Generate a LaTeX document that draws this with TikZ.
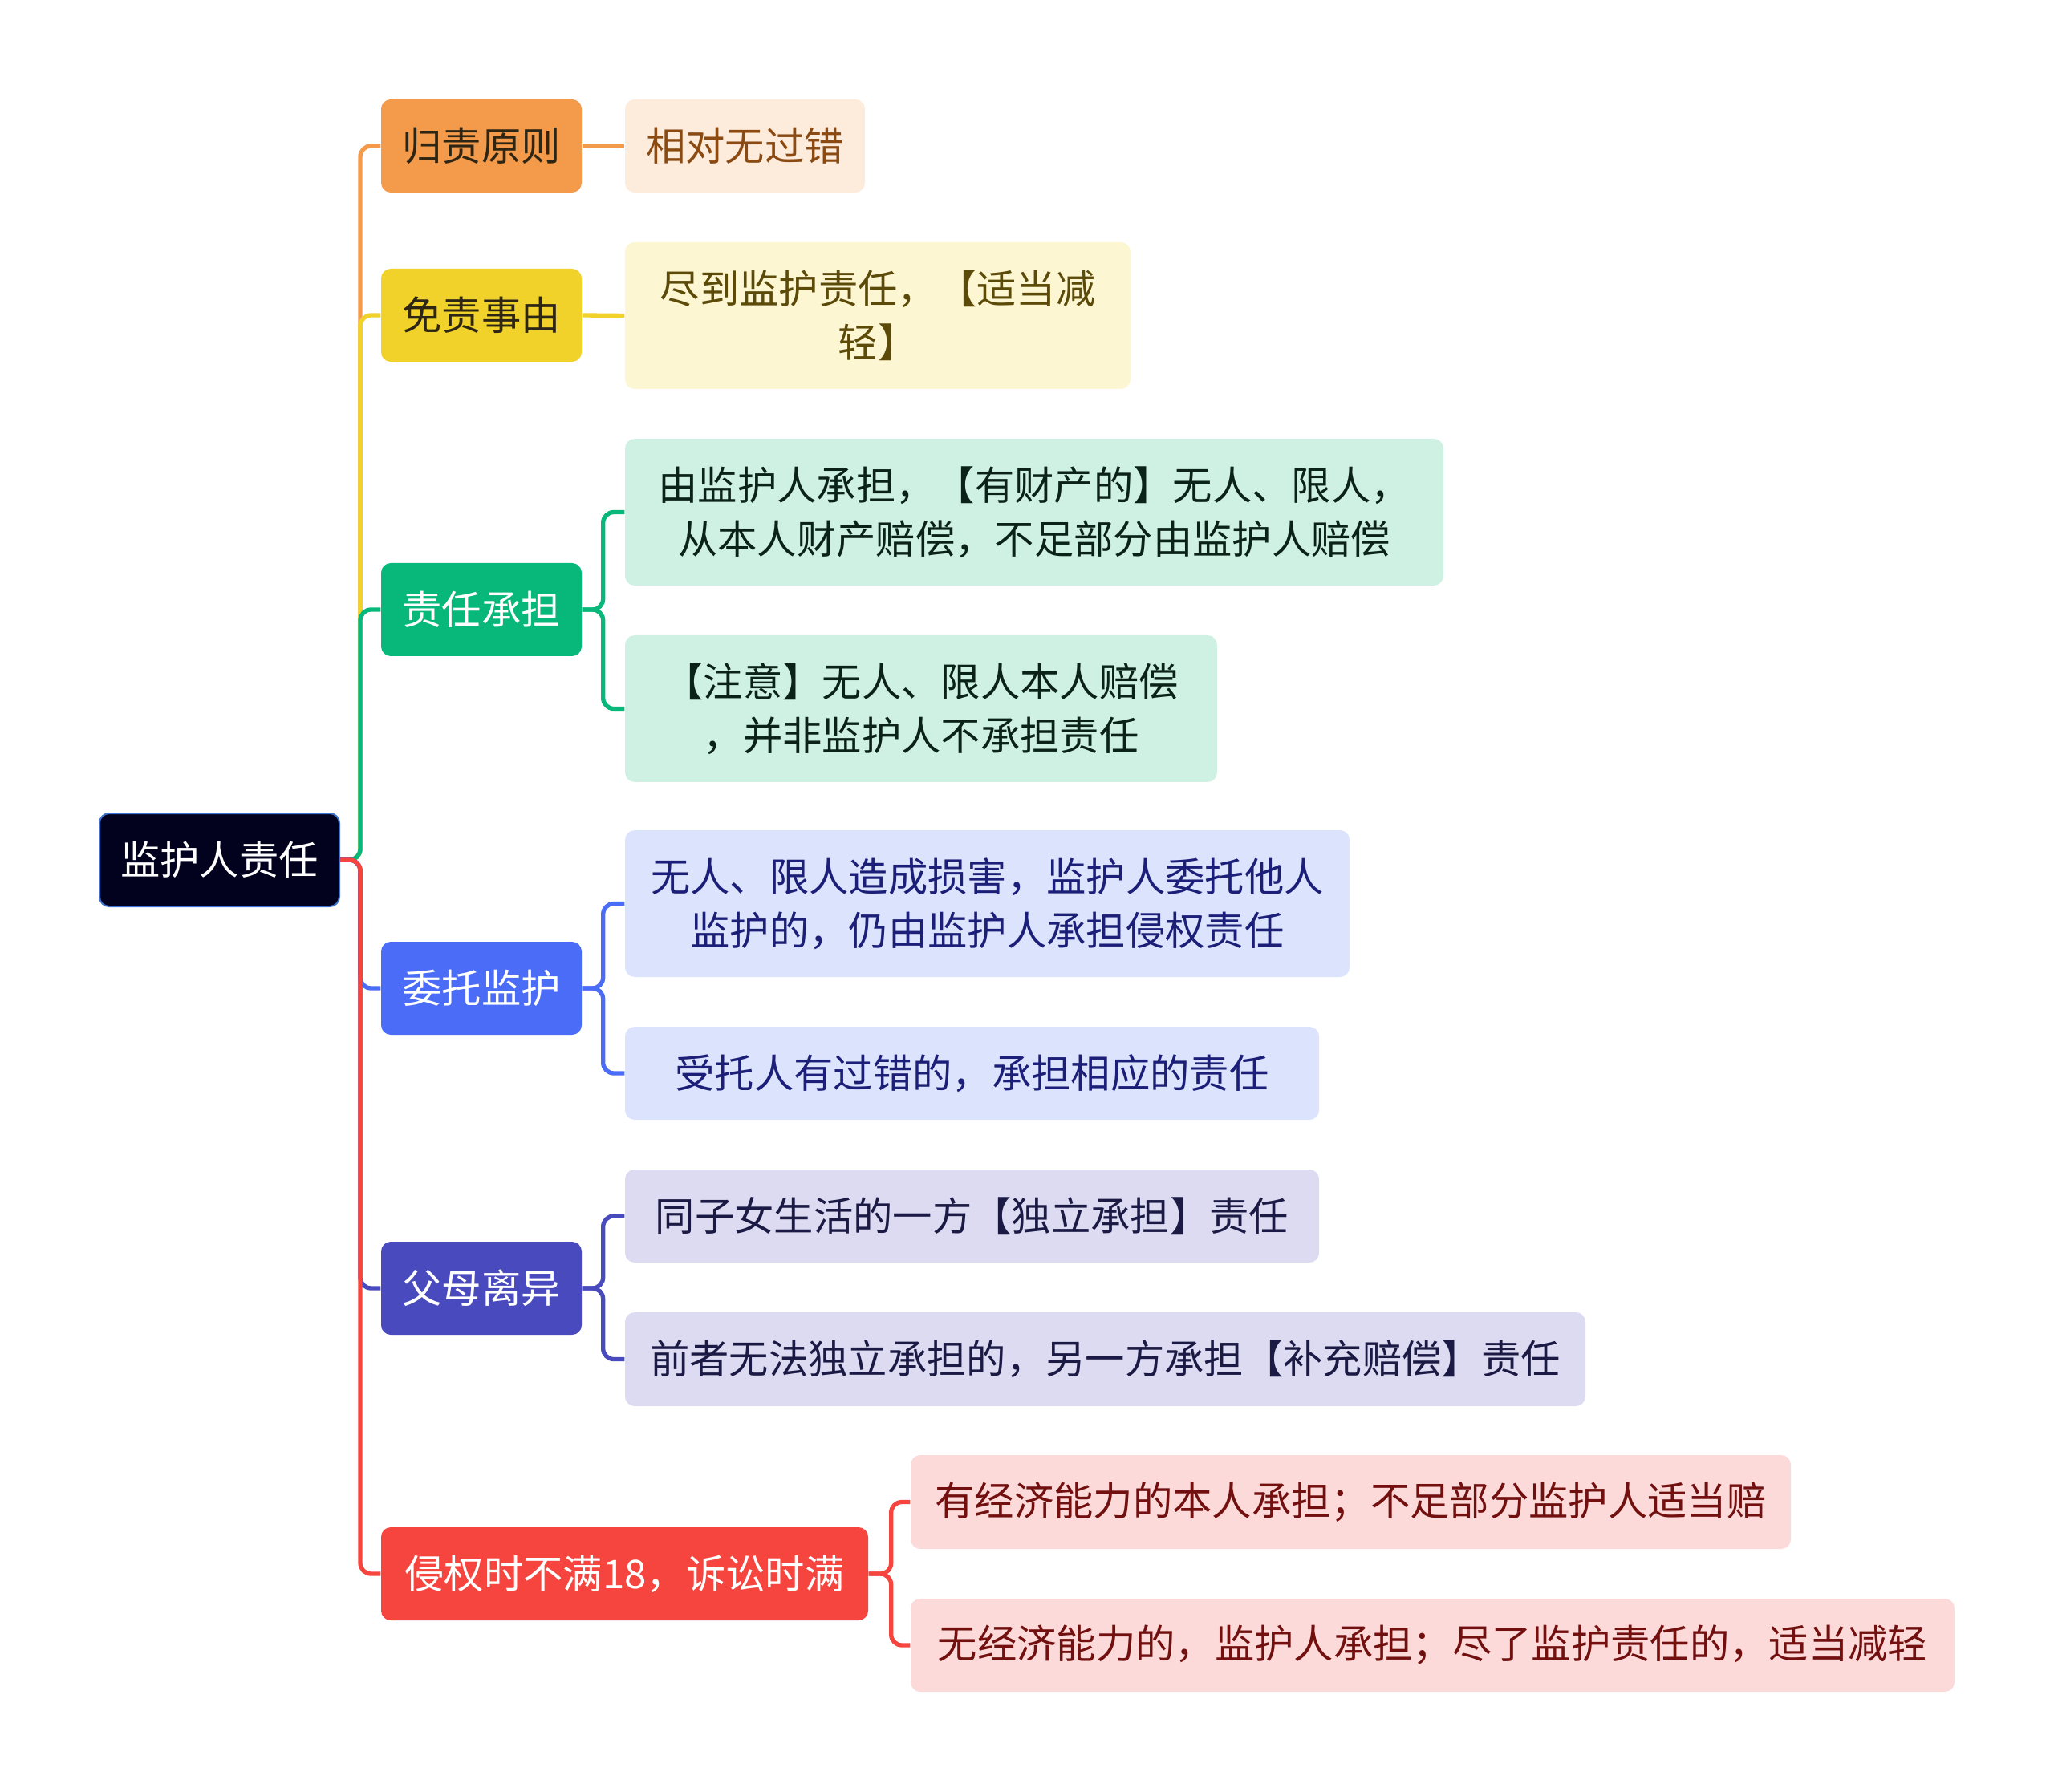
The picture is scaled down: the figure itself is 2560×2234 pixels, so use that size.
\documentclass[tikz,border=0pt]{standalone}
\usepackage{fontspec}
\setmainfont{Noto Sans CJK SC}
\usetikzlibrary{backgrounds,calc}
\definecolor{corange}{HTML}{F39A4B}
\definecolor{cyellow}{HTML}{F1D22A}
\definecolor{cgreen}{HTML}{08B77A}
\definecolor{cblue}{HTML}{4A6CF7}
\definecolor{cpurple}{HTML}{4A4ABF}
\definecolor{cred}{HTML}{F5453E}
\definecolor{crootfill}{HTML}{02021F}
\definecolor{crootdraw}{HTML}{3D73D2}
\definecolor{forange}{HTML}{FDEBDC}
\definecolor{torange}{HTML}{8A4A12}
\definecolor{fyellow}{HTML}{FCF6D3}
\definecolor{tyellow}{HTML}{5C4A08}
\definecolor{fgreen}{HTML}{CFF1E3}
\definecolor{tgreen}{HTML}{0B2218}
\definecolor{fblue}{HTML}{DCE3FC}
\definecolor{tblue}{HTML}{1C1F78}
\definecolor{fpurple}{HTML}{DCDBF1}
\definecolor{tpurple}{HTML}{1B1A45}
\definecolor{fred}{HTML}{FCDADA}
\definecolor{tred}{HTML}{720F0F}
\definecolor{tdark}{HTML}{2E2614}
\begin{document}
\begin{tikzpicture}[x=0.3pt,y=-0.3pt,
  box/.style={rectangle, rounded corners=3.6pt, inner sep=0pt, align=center,
    font=\fontsize{14.8pt}{20pt}\selectfont},
  topbox/.style={box, fill=crootfill, draw=crootdraw, line width=0.6pt, text=white,
    minimum width=89.7pt, minimum height=34.8pt},
  mainbox/.style={box, minimum width=75pt, minimum height=34.8pt},
  leafbox/.style={box},
  conn/.style={line width=1.6pt, rounded corners=4pt}]
\useasboundingbox (0,0) rectangle (2560,2234);

% root
\node[topbox] (root) at (273.5,1072) {监护人责任};

% level 1
\node[mainbox, fill=corange, text=tdark] (a) at (600,182) {归责原则};
\node[mainbox, fill=cyellow, text=tdark] (b) at (600,393) {免责事由};
\node[mainbox, fill=cgreen, text=white] (c) at (600,760) {责任承担};
\node[mainbox, fill=cblue, text=white] (d) at (600,1232) {委托监护};
\node[mainbox, fill=cpurple, text=white] (e) at (600,1606) {父母离异};
\node[mainbox, fill=cred, text=white, minimum width=182.1pt] (f) at (778.5,1962) {侵权时不满18，诉讼时满};

% level 2
\node[leafbox, fill=forange, text=torange, minimum width=89.7pt, minimum height=34.8pt] (a1) at (928.5,182) {相对无过错};
\node[leafbox, fill=fyellow, text=tyellow, minimum width=189pt, minimum height=54.9pt] (b1) at (1094,393.5) {尽到监护责任，【适当减\\轻】};
\node[leafbox, fill=fgreen, text=tgreen, minimum width=306pt, minimum height=54.9pt] (c1) at (1289,638.5) {由监护人承担，【有财产的】无人、限人，\\从本人财产赔偿，不足部分由监护人赔偿};
\node[leafbox, fill=fgreen, text=tgreen, minimum width=221.4pt, minimum height=54.9pt] (c2) at (1148,883.5) {【注意】无人、限人本人赔偿\\，并非监护人不承担责任};
\node[leafbox, fill=fblue, text=tblue, minimum width=270.9pt, minimum height=54.9pt] (d1) at (1230.5,1126.5) {无人、限人造成损害，监护人委托他人\\监护的，仍由监护人承担侵权责任};
\node[leafbox, fill=fblue, text=tblue, minimum width=259.5pt, minimum height=34.8pt] (d2) at (1211.5,1338) {受托人有过错的，承担相应的责任};
\node[leafbox, fill=fpurple, text=tpurple, minimum width=259.5pt, minimum height=34.8pt] (e1) at (1211.5,1516) {同子女生活的一方【独立承担】责任};
\node[leafbox, fill=fpurple, text=tpurple, minimum width=359.1pt, minimum height=35.1pt] (e2) at (1377.5,1694.5) {前者无法独立承担的，另一方承担【补充赔偿】责任};
\node[leafbox, fill=fred, text=tred, minimum width=329.1pt, minimum height=35.1pt] (f1) at (1683.5,1872.5) {有经济能力的本人承担；不足部分监护人适当赔};
\node[leafbox, fill=fred, text=tred, minimum width=390.3pt, minimum height=34.8pt] (f2) at (1785.5,2051) {无经济能力的，监护人承担；尽了监护责任的，适当减轻};

\begin{pgfonlayer}{background}
\coordinate (t0) at (449,1072);
\foreach \n/\c in {a/corange, b/cyellow, c/cgreen, d/cblue, e/cpurple, f/cred}
  \draw[conn, draw=\c] (root.east) -- (t0) -- (t0 |- \n.west) -- (\n.west);

\draw[conn, draw=corange] (a.east) -- (a1.west);
\draw[conn, draw=cyellow] (b.east) -- (b1.west);

\coordinate (tc) at ($(c.east)+(26,0)$);
\foreach \n in {c1,c2}
  \draw[conn, draw=cgreen] (c.east) -- (tc) -- (tc |- \n.west) -- (\n.west);

\coordinate (td) at ($(d.east)+(26,0)$);
\foreach \n in {d1,d2}
  \draw[conn, draw=cblue] (d.east) -- (td) -- (td |- \n.west) -- (\n.west);

\coordinate (te) at ($(e.east)+(26,0)$);
\foreach \n in {e1,e2}
  \draw[conn, draw=cpurple] (e.east) -- (te) -- (te |- \n.west) -- (\n.west);

\coordinate (tf) at ($(f.east)+(28,0)$);
\foreach \n in {f1,f2}
  \draw[conn, draw=cred] (f.east) -- (tf) -- (tf |- \n.west) -- (\n.west);
\end{pgfonlayer}
\end{tikzpicture}
\end{document}
